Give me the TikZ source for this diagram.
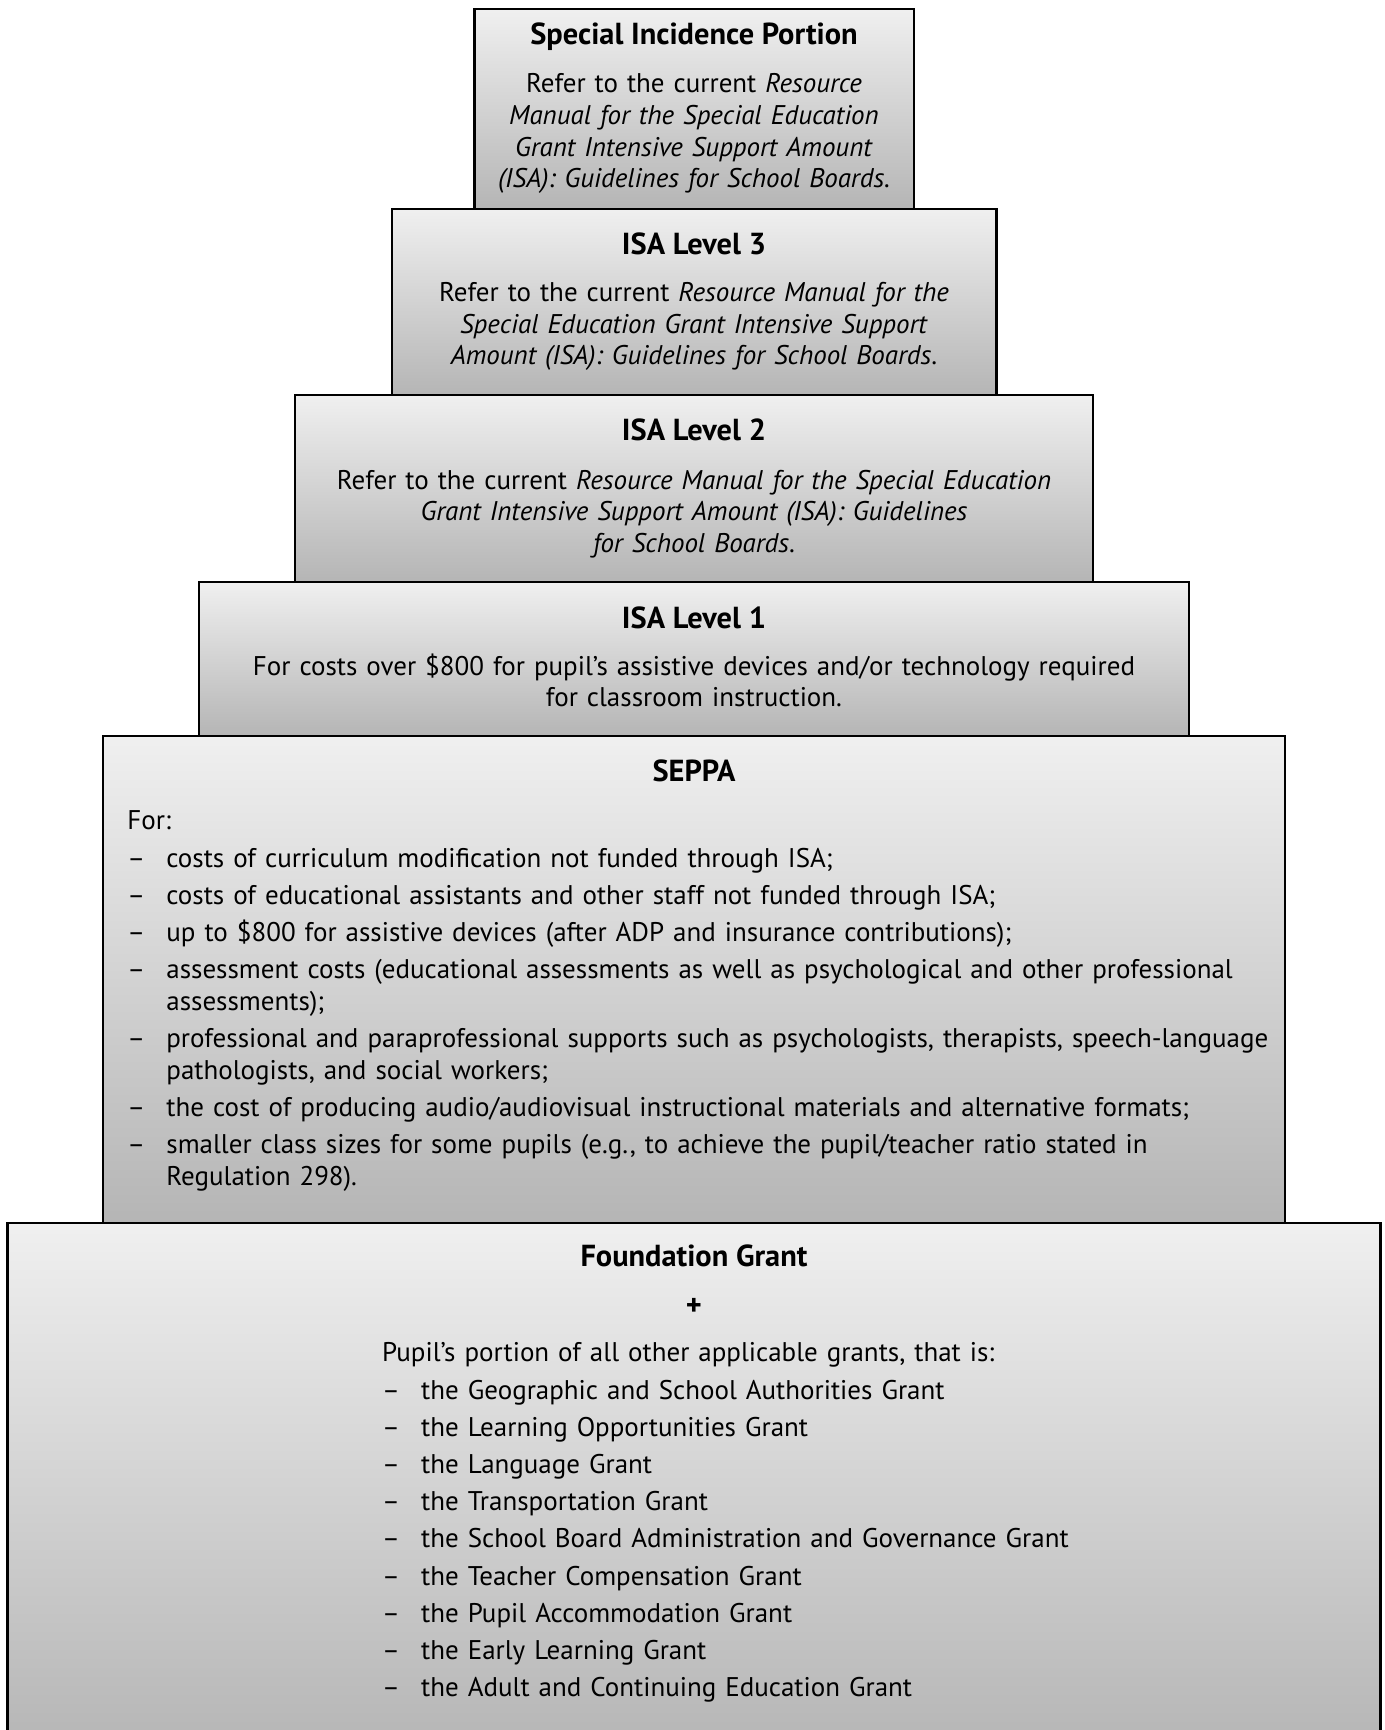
\documentclass[tikz,border=0pt]{standalone}
\usepackage{fontspec}
\setmainfont{PT Sans}
\usepackage{tikz}
\usetikzlibrary{positioning}

\newcommand{\dashitem}[1]{\par\hangindent=19.5pt\hangafter=1\noindent\makebox[19.5pt][l]{–}#1}

\begin{document}
\begin{tikzpicture}[
        tier/.style={draw,line width=1.1pt,outer sep=0pt,inner sep=0pt,top color=black!6,bottom color=black!29},
        heading/.style={inner sep=0pt,font=\fontsize{15.2}{15.8}\selectfont\bfseries},
        body/.style={inner sep=0pt,text width=560pt,align=center,font=\fontsize{13.5}{15.8}\selectfont},
        list/.style={inner sep=0pt,align=left,font=\fontsize{13.5}{15.8}\selectfont\setlength{\parskip}{2.8pt}}]

    \useasboundingbox (0,0) rectangle (692.5pt,-865pt);
    \clip (0,0) rectangle (692.5pt,-865pt);

    \node[tier,minimum width=219.6pt,minimum height=99.9pt,anchor=north] (sip) at (347pt,-4.4pt) {};
    \node[tier,minimum width=302.4pt,minimum height=93.2pt,below=0pt of sip] (lvl3) {};
    \node[tier,minimum width=399pt,minimum height=93.3pt,below=0pt of lvl3] (lvl2) {};
    \node[tier,minimum width=495pt,minimum height=77.2pt,below=0pt of lvl2] (lvl1) {};
    \node[tier,minimum width=591pt,minimum height=243.4pt,below=0pt of lvl1] (seppa) {};
    \node[tier,minimum width=686.5pt,minimum height=265pt,below=0pt of seppa] (found) {};

    \node[heading,below=18pt of sip.north,anchor=base] (siptitle) {Special Incidence Portion};
    \node[body,below=30.8pt of sip.north] (siptext) {\strut Refer to the current \textit{Resource}\\
        \textit{Manual for the Special Education}\\
        \textit{Grant Intensive Support Amount}\\
        \textit{(ISA): Guidelines for School Boards.}};

    \node[heading,below=23pt of lvl3.north,anchor=base] (lvl3title) {ISA Level 3};
    \node[body,below=35.2pt of lvl3.north] (lvl3text) {\strut Refer to the current \textit{Resource Manual for the}\\
        \textit{Special Education Grant Intensive Support}\\
        \textit{Amount (ISA): Guidelines for School Boards}.};

    \node[heading,below=22.6pt of lvl2.north,anchor=base] (lvl2title) {ISA Level 2};
    \node[body,below=35.8pt of lvl2.north] (lvl2text) {\strut Refer to the current \textit{Resource Manual for the Special Education}\\
        \textit{Grant Intensive Support Amount (ISA): Guidelines}\\
        \textit{for School Boards}.};

    \node[heading,below=23.5pt of lvl1.north,anchor=base] (lvl1title) {ISA Level 1};
    \node[body,below=35.6pt of lvl1.north] (lvl1text) {\strut For costs over \$800 for pupil’s assistive devices and/or technology required\\
        for classroom instruction.};

    \node[heading,below=22.6pt of seppa.north,anchor=base] (seppatitle) {SEPPA};
    \node[list,text width=585pt,anchor=north west] (seppatext) at ([xshift=-283.5pt,yshift=-35.7pt]seppa.north) {\noindent\strut For:
        \dashitem{costs of curriculum modification not funded through ISA;}
        \dashitem{costs of educational assistants and other staff not funded through ISA;}
        \dashitem{up to \$800 for assistive devices (after ADP and insurance contributions);}
        \dashitem{assessment costs (educational assessments as well as psychological and other professional\newline assessments);}
        \dashitem{professional and paraprofessional supports such as psychologists, therapists, speech-language\newline pathologists, and social workers;}
        \dashitem{the cost of producing audio/audiovisual instructional materials and alternative formats;}
        \dashitem{smaller class sizes for some pupils (e.g., to achieve the pupil/teacher ratio stated in\newline Regulation 298).}\par};

    \node[heading,below=22pt of found.north,anchor=base] (foundtitle) {Foundation Grant};
    \node[heading,below=46.5pt of found.north,anchor=base] (plus) {+};
    \node[list,text width=480pt,anchor=north west] (grants) at ([xshift=-156.1pt,yshift=-58.3pt]found.north) {\noindent\strut Pupil’s portion of all other applicable grants, that is:
        \dashitem{the Geographic and School Authorities Grant}
        \dashitem{the Learning Opportunities Grant}
        \dashitem{the Language Grant}
        \dashitem{the Transportation Grant}
        \dashitem{the School Board Administration and Governance Grant}
        \dashitem{the Teacher Compensation Grant}
        \dashitem{the Pupil Accommodation Grant}
        \dashitem{the Early Learning Grant}
        \dashitem{the Adult and Continuing Education Grant}\par};
\end{tikzpicture}
\end{document}
